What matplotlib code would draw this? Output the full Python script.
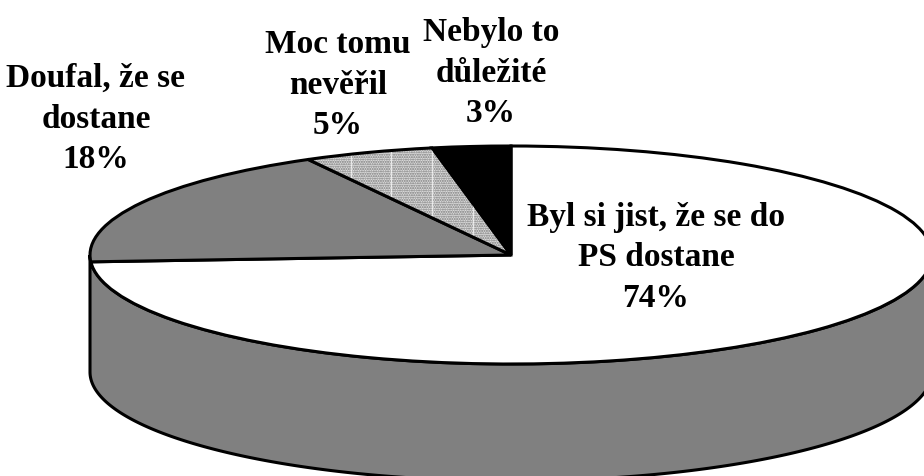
import matplotlib
matplotlib.use('Agg')
import matplotlib.pyplot as plt
from matplotlib.patches import Wedge
import numpy as np

# ── DATA ──────────────────────────────────────────────
labels = ["Byl si jist, že se do\nPS dostane\n74%", "Doufal, že se\ndostane\n18%",
          "Moc tomu\nnevěřil\n5%", "Nebylo to\ndůležité\n3%"]
values = [74, 18, 5, 3]

# ── STYLE ─────────────────────────────────────────────
W, H = 924, 476
CX, CY = 511, 255      # pie centre, px
RX, RY = 421, 109      # ellipse radii, px
DEPTH = 117            # side wall height, px
GRAY = "#808080"
LW = 2.2

fig = plt.figure(figsize=(W / 100, H / 100), dpi=100, facecolor='white')
ax = fig.add_axes([0, 0, 1, 1])

# side wall first, so the top covers it
t = np.linspace(np.pi, 2 * np.pi, 300)
xs = np.cos(t)
ys = np.sin(t)
d = DEPTH / RY
ax.fill(np.r_[xs, xs[::-1]], np.r_[ys, ys[::-1] - d], facecolor=GRAY,
        edgecolor='black', linewidth=LW, zorder=1)

wedges, _ = ax.pie(values, startangle=90, counterclock=False, radius=1,
                   colors=['white', GRAY, '#dedede', 'black'],
                   wedgeprops=dict(edgecolor='black', linewidth=LW))
for w in wedges:
    w.set_zorder(2)
dotted = wedges[2]
dotted.set_hatch('.......')
dotted.set_edgecolor('#777777')
dotted.set_linewidth(0)

# faint white stripes across the dotted slice
for px in [351, 391, 432, 473]:
    stripe = ax.axvline((px - CX) / RX, color='white', linewidth=1, alpha=0.7, zorder=2.5)
    stripe.set_clip_path(dotted)

# black outline of the dotted slice, hatch colour kept separate
ax.add_patch(Wedge(dotted.center, dotted.r, dotted.theta1, dotted.theta2, facecolor='none',
                   edgecolor='black', linewidth=LW, zorder=3))

ax.set_aspect('auto')
ax.set_xlim(-CX / RX, (W - CX) / RX)
ax.set_ylim((CY - H) / RY, CY / RY)
ax.axis('off')

# ── LABELS ────────────────────────────────────────────
label_pos = [(656, 258), (96, 119), (338, 85), (491, 73)]
for text, (px, py) in zip(labels, label_pos):
    fig.text(px / W, 1 - py / H, text, family='Liberation Serif', fontweight='bold',
             fontsize=24, color='black', ha='center', va='center', linespacing=1.4)

plt.savefig('out.png', dpi=100, facecolor='white')
plt.close()
